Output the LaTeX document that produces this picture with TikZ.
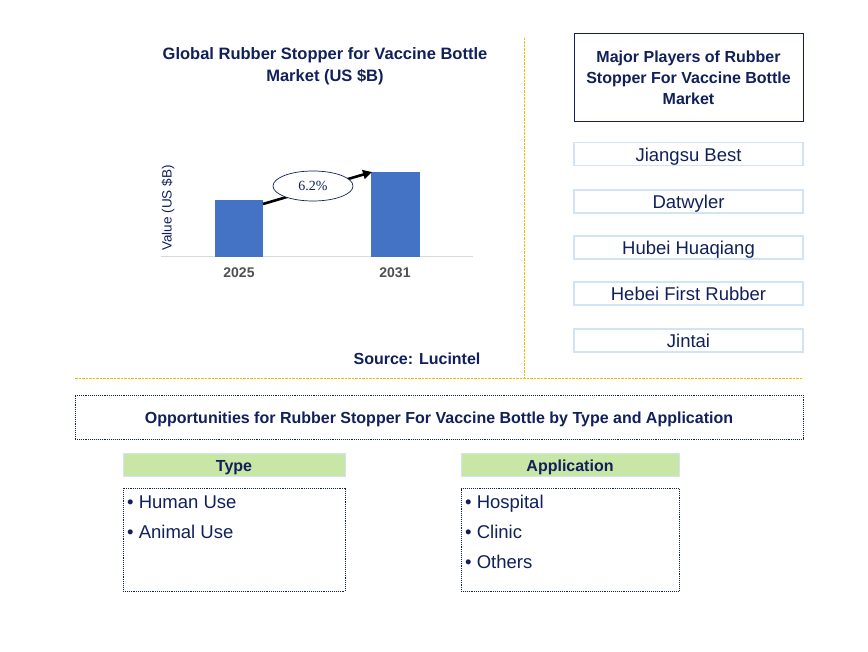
\documentclass[tikz,border=0pt]{standalone}
\usepackage{fontspec}
\setmainfont{Liberation Sans}
\newfontfamily\serifz{Liberation Serif}
\usetikzlibrary{shapes.geometric,arrows.meta}
\definecolor{navy}{RGB}{16,32,90}
\definecolor{barblue}{RGB}{68,114,196}
\definecolor{orangeline}{RGB}{245,185,0}
\definecolor{lightblue}{RGB}{208,228,245}
\definecolor{headgreen}{RGB}{200,230,165}
\definecolor{yeargray}{RGB}{80,80,80}
\tikzset{
  titletxt/.style={text=navy,font=\bfseries\fontsize{16.5}{22}\selectfont,align=center},
  playerbox/.style={draw=lightblue,line width=1.2pt,minimum width=229pt,minimum height=23pt,inner sep=0pt,text height=15pt,text depth=0pt,text=navy,font=\fontsize{18.5}{22}\selectfont},
  bar/.style={fill=barblue,inner sep=0pt,anchor=south west},
  sep/.style={draw=orangeline,dash pattern=on 2.5pt off 1pt,line width=1pt},
  dotbox/.style={draw=navy,densely dotted,line width=0.9pt},
  headbox/.style={draw=lightblue,fill=headgreen,line width=1pt,inner sep=0pt,text height=13pt,text depth=0pt,text=navy,font=\bfseries\fontsize{16}{19}\selectfont},
  item/.style={anchor=base west,text=navy,inner sep=0pt,font=\fontsize{18.5}{22}\selectfont},
}
\begin{document}
\begin{tikzpicture}[x=1pt,y=-1pt]
\useasboundingbox[fill=white] (0,0) rectangle (868,652);
% separators
\coordinate (v1) at (524,38);
\coordinate (v2) at (524,378);
\coordinate (h1) at (75,379);
\coordinate (h2) at (803,379);
\draw[sep] (v1) -- (v2);
\draw[sep] (h1) -- (h2);
% chart title
\node[titletxt] (title) at (325,66) {Global Rubber Stopper for Vaccine Bottle\\Market (US \$B)};
% axis
\coordinate (ax1) at (161,257);
\coordinate (ax2) at (473,257);
\draw[draw={rgb,255:red,217;green,217;blue,217},line width=1pt] (ax1) -- (ax2);
% bars
\node[bar,minimum width=48pt,minimum height=57pt] (b1) at (215,257) {};
\node[bar,minimum width=49pt,minimum height=85pt] (b2) at (371,257) {};
\node[text=yeargray,font=\bfseries\fontsize{14}{16}\selectfont] (y1) at (239,273) {2025};
\node[text=yeargray,font=\bfseries\fontsize{14}{16}\selectfont] (y2) at (395,273) {2031};
\node[rotate=90,text=navy,font=\fontsize{13.5}{16}\selectfont] (ylab) at (168,208) {Value (US \$B)};
% growth arrow
\coordinate (a1) at (263,204);
\coordinate (a2) at (372,172);
\draw[line width=2.6pt,-{Triangle[length=9pt,width=9pt]}] (a1) -- (a2);
\node[ellipse,draw=navy,line width=0.7pt,fill=white,minimum width=80pt,minimum height=30pt,inner sep=0pt,text=navy,font=\serifz\fontsize{14}{16}\selectfont] (cagr) at (313,186) {6.2\%};
% source
\node[text=navy,font=\bfseries\fontsize{16}{19}\selectfont] (src) at (417,359) {Source: Lucintel};
% right column
\node[draw=navy,line width=1pt,minimum width=229pt,minimum height=88pt,inner sep=0pt,titletxt,font=\bfseries\fontsize{16}{21}\selectfont] (mp) at (688.5,78) {Major Players of Rubber\\Stopper For Vaccine Bottle\\Market};
\node[playerbox] (p1) at (688.5,154) {Jiangsu Best};
\node[playerbox] (p2) at (688.5,201.5) {Datwyler};
\node[playerbox] (p3) at (688.5,247.5) {Hubei Huaqiang};
\node[playerbox] (p4) at (688.5,293.5) {Hebei First Rubber};
\node[playerbox] (p5) at (688.5,340.5) {Jintai};
% bottom
\node[dotbox,minimum width=728pt,minimum height=44pt,inner sep=0pt,text height=13pt,text depth=0pt,text=navy,font=\bfseries\fontsize{16}{19}\selectfont] (opp) at (439,417) {Opportunities for Rubber Stopper For Vaccine Bottle by Type and Application};
\node[headbox,minimum width=222pt,minimum height=23pt] (th) at (234,464.5) {Type};
\node[headbox,minimum width=218pt,minimum height=23pt] (ah) at (570,464.5) {Application};
\node[dotbox,minimum width=222pt,minimum height=103pt,inner sep=0pt] (tl) at (234,539.5) {};
\node[dotbox,minimum width=218pt,minimum height=103pt,inner sep=0pt] (al) at (570,539.5) {};
\node[item] (t1) at (127,508) {\textbullet\ Human Use};
\node[item] (t2) at (127,538) {\textbullet\ Animal Use};
\node[item] (c1) at (465,508) {\textbullet\ Hospital};
\node[item] (c2) at (465,538) {\textbullet\ Clinic};
\node[item] (c3) at (465,568) {\textbullet\ Others};
\end{tikzpicture}
\end{document}
